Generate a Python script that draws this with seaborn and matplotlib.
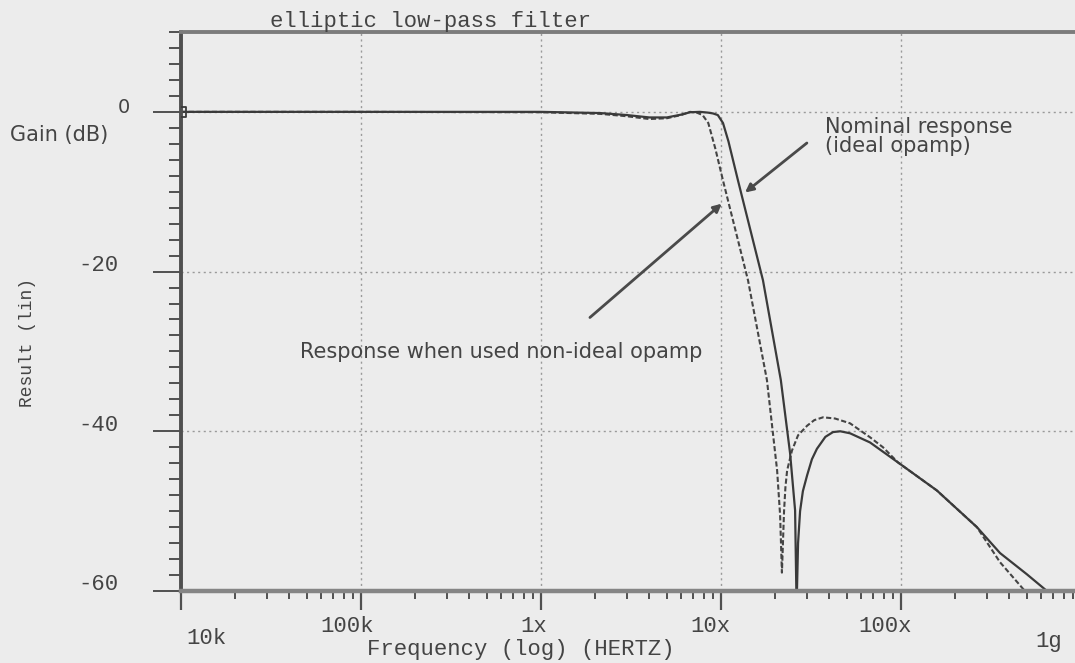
import matplotlib
matplotlib.use("Agg")
import matplotlib.pyplot as plt
from matplotlib.ticker import FixedLocator, MultipleLocator, LogLocator, NullFormatter
import numpy as np
import pandas as pd
import seaborn as sns

# Frequency response of the elliptic low-pass filter (Hz, dB)
freq_nominal = [1e4, 1e5, 1e6, 2.13e6, 3.0e6, 4.0e6, 5.0e6, 6.0e6, 6.73e6, 7.64e6,
                8.5e6, 9.03e6, 9.6e6, 10.26e6, 11.0e6, 12.43e6, 17.11e6, 21.5e6,
                24.2e6, 25.8e6, 26.3e6, 26.8e6, 27.5e6, 28.5e6, 30.1e6, 32.0e6,
                34.1e6, 38.0e6, 41.9e6, 46.0e6, 52.1e6, 67.3e6, 96.2e6, 158e6,
                264e6, 355e6, 500e6, 647e6]
gain_nominal = [0.0, 0.0, 0.0, -0.15, -0.4, -0.7, -0.7, -0.35, -0.05, 0.0,
                -0.1, -0.2, -0.4, -1.4, -3.7, -8.6, -21.1, -33.6,
                -42.75, -49.9, -62.0, -54.0, -50.0, -47.5, -45.5, -43.5,
                -42.2, -40.7, -40.1, -40.0, -40.25, -41.4, -43.9, -47.4,
                -52.0, -55.25, -57.9, -60.0]

freq_nonideal = [1e4, 1e5, 1e6, 2.13e6, 3.0e6, 4.0e6, 5.0e6, 6.0e6, 6.73e6, 7.35e6,
                 7.9e6, 8.5e6, 9.3e6, 10.26e6, 14.13e6, 18.0e6, 20.5e6, 21.3e6,
                 21.8e6, 22.4e6, 22.8e6, 23.3e6, 24.8e6, 26.8e6, 30.1e6, 33.0e6,
                 36.9e6, 43.0e6, 52.1e6, 67.3e6, 79.4e6, 96.2e6, 158e6, 264e6,
                 355e6, 488e6]
gain_nonideal = [0.0, 0.0, -0.05, -0.25, -0.55, -0.9, -0.8, -0.4, 0.0, -0.1,
                 -0.4, -1.4, -4.6, -8.6, -21.1, -33.6, -44.9, -50.5,
                 -57.7, -50.0, -47.0, -44.9, -42.4, -40.5, -39.3, -38.6,
                 -38.25, -38.4, -39.0, -40.75, -42.0, -43.9, -47.4, -52.0,
                 -56.4, -60.0]

y_tick_values = [-20, -40, -60]
y_tick_labels = ["-20", "-40", "-60"]
x_tick_values = [1e4, 1e5, 1e6, 1e7, 1e8, 1e9]
x_tick_labels = ["10k", "100k", "1x", "10x", "100x", "1g"]

BG = "#ececec"
INK = "#3a3a3a"
MONO = ["Liberation Mono", "DejaVu Sans Mono"]
SANS = ["DejaVu Sans"]

sns.set_theme(style="white")
plt.rcParams.update({
    "figure.facecolor": BG,
    "axes.facecolor": BG,
    "savefig.facecolor": BG,
})

W, H = 1075, 663
fig = plt.figure(figsize=(W / 100, H / 100), dpi=100)
ax = fig.add_axes([181 / W, 1 - 591 / H, 900 / W, (591 - 32) / H])

df_nom = pd.DataFrame({"freq": freq_nominal, "gain": gain_nominal})
df_non = pd.DataFrame({"freq": freq_nonideal, "gain": gain_nonideal})

sns.lineplot(data=df_non, x="freq", y="gain", ax=ax, color="#444444", lw=1.5,
             linestyle=(0, (2.5, 1.2)), estimator=None, sort=False)
sns.lineplot(data=df_nom, x="freq", y="gain", ax=ax, color=INK, lw=1.6,
             estimator=None, sort=False)
sns.scatterplot(x=freq_nominal[:1], y=gain_nominal[:1], ax=ax, marker="s",
                s=45, facecolor="none", edgecolor=INK, linewidth=1.3, zorder=5)

ax.set_xscale("log")
ax.set_xlim(1e4, 1e9)
ax.set_ylim(-60, 10)

ax.xaxis.set_major_locator(FixedLocator(x_tick_values))
ax.xaxis.set_minor_locator(LogLocator(base=10, subs=np.arange(2, 10)))
ax.xaxis.set_minor_formatter(NullFormatter())
ax.yaxis.set_major_locator(MultipleLocator(20))
ax.yaxis.set_minor_locator(MultipleLocator(2))
ax.tick_params(axis="both", which="both", direction="out", colors="#505050",
               labelbottom=False, labelleft=False, bottom=True, left=True)
ax.tick_params(axis="x", which="major", length=14, width=1.6)
ax.tick_params(axis="x", which="minor", length=6, width=1.4)
ax.tick_params(axis="y", which="major", length=20, width=1.4)
ax.tick_params(axis="y", which="minor", length=9, width=1.4)
ax.set_xlabel("")
ax.set_ylabel("")

ax.grid(which="major", axis="both", linestyle=(0, (1.5, 2.5)), color="#9a9a9a", lw=1.0)

ax.spines["right"].set_visible(False)
ax.spines["top"].set_color("#7c7c7c")
ax.spines["top"].set_linewidth(2.8)
ax.spines["bottom"].set_color("#858585")
ax.spines["bottom"].set_linewidth(3.2)
ax.spines["left"].set_color("#505050")
ax.spines["left"].set_linewidth(2.8)

# tick labels
x_offsets = [(25, -47), (-14, -36), (-7, -36), (-11, -36), (-16, -36), (-32, -51)]
for val, lab, (dx, dy) in zip(x_tick_values, x_tick_labels, x_offsets):
    ax.annotate(lab, xy=(val, 0), xycoords=("data", "axes fraction"),
                xytext=(dx, dy), textcoords="offset pixels", ha="center",
                va="center", fontsize=16, family=MONO, color="#444444",
                annotation_clip=False)
for val, lab in zip(y_tick_values, y_tick_labels):
    ax.annotate(lab, xy=(0, val), xycoords=("axes fraction", "data"),
                xytext=(-63, 6), textcoords="offset pixels", ha="right",
                va="center", fontsize=16, family=MONO, color="#444444",
                annotation_clip=False)
ax.annotate("0", xy=(0, 0), xycoords=("axes fraction", "data"),
            xytext=(-51, 4), textcoords="offset pixels", ha="right",
            va="center", fontsize=14, family=SANS, color="#444444",
            annotation_clip=False)

# titles and axis captions
fig.text(270 / W, 1 - 21 / H, "elliptic low-pass filter", ha="left", va="center",
         fontsize=16, family=MONO, color="#444444")
fig.text(367 / W, 1 - 649 / H, "Frequency (log) (HERTZ)", ha="left", va="center",
         fontsize=16, family=MONO, color="#444444")
fig.text(28 / W, 1 - 342 / H, "Result (lin)", ha="center", va="center",
         rotation=90, fontsize=13, family=MONO, color="#444444")
fig.text(10 / W, 1 - 135 / H, "Gain (dB)", ha="left", va="center",
         fontsize=15, family=SANS, color="#444444")

# annotations
arrow = dict(arrowstyle="-|>", color="#4a4a4a", lw=2.0, mutation_scale=12,
             shrinkA=0, shrinkB=0)
ax.annotate("", xy=(13.6e6, -10.1), xytext=(30.0e6, -3.9), arrowprops=arrow)
ax.annotate("", xy=(10.1e6, -11.5), xytext=(1.87e6, -25.75), arrowprops=arrow)
ax.text(38.0e6, -0.6, "Nominal response\n(ideal opamp)", ha="left", va="top",
        fontsize=15, family=SANS, color="#444444", linespacing=0.95)
ax.text(45.8e3, -30.1, "Response when used non-ideal opamp", ha="left",
        va="center", fontsize=15, family=SANS, color="#444444")

fig.savefig("out.png", dpi=100)
